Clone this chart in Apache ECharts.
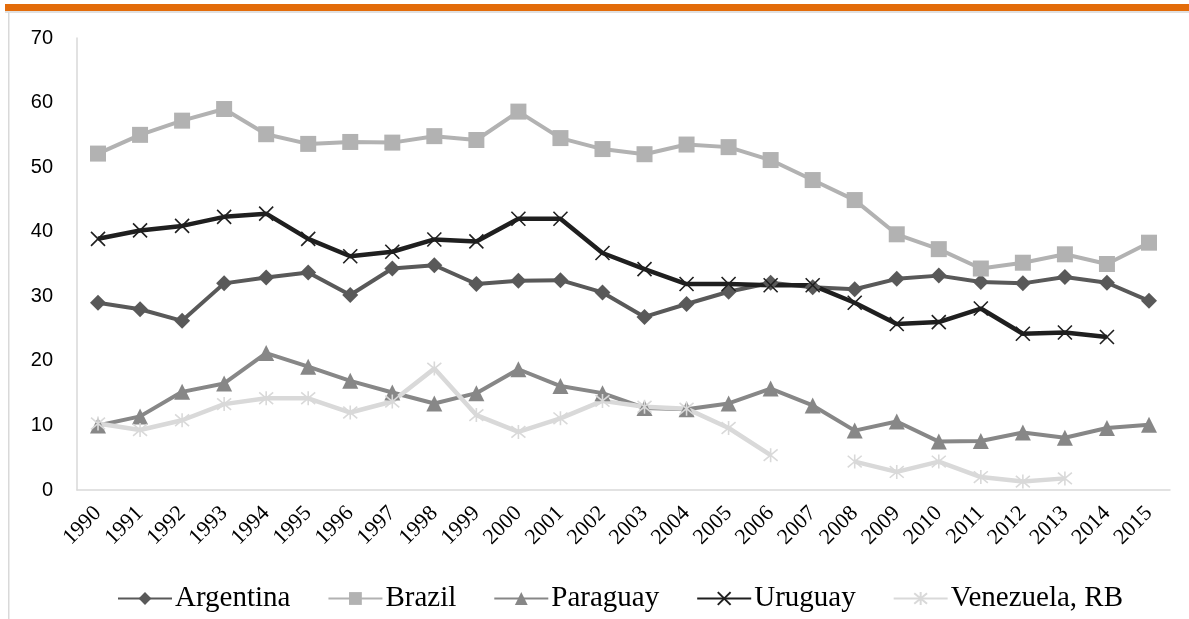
<!DOCTYPE html>
<html>
<head>
<meta charset="utf-8">
<script src="https://cdn.jsdelivr.net/npm/echarts@6/dist/echarts.min.js"></script>
<style>
  html, body { margin: 0; padding: 0; background: #fff; }
  #chart { width: 1189px; height: 619px; }
</style>
</head>
<body>
<div id="chart"></div>
<script>
// years on the category axis
const years = ['1990','1991','1992','1993','1994','1995','1996','1997','1998','1999',
  '2000','2001','2002','2003','2004','2005','2006','2007','2008','2009',
  '2010','2011','2012','2013','2014','2015'];

const argentina = [29.0,28.0,26.2,32.0,32.9,33.7,30.2,34.3,34.8,31.9,
  32.4,32.5,30.6,26.8,28.8,30.7,32.1,31.4,31.1,32.7,
  33.2,32.2,32.0,33.0,32.1,29.3];
const brazil = [52.1,55.0,57.2,59.0,55.1,53.6,53.9,53.8,54.8,54.2,
  58.6,54.5,52.8,52.0,53.5,53.1,51.1,48.0,44.9,39.6,
  37.3,34.3,35.2,36.5,35.0,38.3];
const paraguay = [10.0,11.4,15.2,16.5,21.2,19.1,16.9,15.1,13.4,15.0,
  18.7,16.1,15.0,12.7,12.5,13.4,15.7,13.1,9.2,10.6,
  7.5,7.6,8.9,8.1,9.6,10.1];
const uruguay = [38.9,40.2,40.9,42.3,42.8,38.9,36.2,36.9,38.8,38.5,
  42.0,42.0,36.7,34.2,31.9,31.9,31.7,31.7,29.0,25.7,
  26.0,28.1,24.2,24.4,23.7,null];
const venezuela = [10.3,9.3,10.8,13.3,14.2,14.2,12.0,13.7,18.8,11.6,
  9.0,11.1,13.8,12.9,12.6,9.6,5.4,null,4.4,2.8,
  4.4,2.0,1.3,1.8,null,null];

const yTicks = { min: 0, max: 70, step: 10 };

const crossPath = 'path://M0,0L10,10M10,0L0,10';
const starPath = 'path://M0,0L10,10M10,0L0,10M5,-1L5,11';

function lineSeries(name, data, color, symbol, size, width, stroked) {
  return {
    name: name,
    type: 'line',
    data: data,
    symbol: symbol,
    symbolSize: size,
    showAllSymbol: true,
    connectNulls: false,
    lineStyle: { color: color, width: width },
    itemStyle: stroked
      ? { color: color, borderColor: color, borderWidth: 1.6 }
      : { color: color },
    emphasis: { disabled: true }
  };
}

let myChart = echarts.init(document.getElementById('chart'));
let option = {
  animation: false,
  backgroundColor: '#fff',
  graphic: [
    { type: 'rect', shape: { x: 5, y: 4, width: 1184, height: 7 }, style: { fill: '#e36c0a' } },
    { type: 'rect', shape: { x: 5, y: 11, width: 1184, height: 2 }, style: { fill: '#e0e0e0' } },
    { type: 'rect', shape: { x: 8, y: 12, width: 1.5, height: 607 }, style: { fill: '#d9d9d9' } }
  ],
  grid: { left: 77, right: 19, top: 38, bottom: 129, containLabel: false },
  xAxis: {
    type: 'category',
    data: years,
    boundaryGap: true,
    axisLine: { show: true, lineStyle: { color: '#d9d9d9', width: 1.5 } },
    axisTick: { show: false },
    splitLine: { show: false },
    axisLabel: {
      rotate: 45,
      interval: 0,
      margin: 20,
      color: '#000',
      fontSize: 22,
      fontFamily: 'Liberation Serif'
    }
  },
  yAxis: {
    type: 'value',
    min: yTicks.min,
    max: yTicks.max,
    interval: yTicks.step,
    axisLine: { show: true, lineStyle: { color: '#d9d9d9', width: 1.5 } },
    axisTick: { show: false },
    splitLine: { show: false },
    axisLabel: {
      margin: 24,
      color: '#000',
      fontSize: 20,
      fontFamily: 'Liberation Sans'
    }
  },
  legend: {
    left: 112,
    top: 579,
    itemWidth: 54,
    itemHeight: 16,
    itemGap: 37,
    textStyle: { color: '#000', fontSize: 29, fontFamily: 'Liberation Serif', padding: [0, 0, 0, -2] },
    data: ['Argentina', 'Brazil', 'Paraguay', 'Uruguay', 'Venezuela, RB']
  },
  series: [
    lineSeries('Argentina', argentina, '#595959', 'diamond', 16, 4, false),
    lineSeries('Brazil', brazil, '#b2b2b2', 'rect', 16, 4, false),
    lineSeries('Paraguay', paraguay, '#878787', 'triangle', 16, 4, false),
    lineSeries('Uruguay', uruguay, '#1f1f1f', crossPath, 14, 4.5, true),
    lineSeries('Venezuela, RB', venezuela, '#d9d9d9', starPath, 14, 4.5, true)
  ]
};
myChart.setOption(option);
</script>
</body>
</html>
